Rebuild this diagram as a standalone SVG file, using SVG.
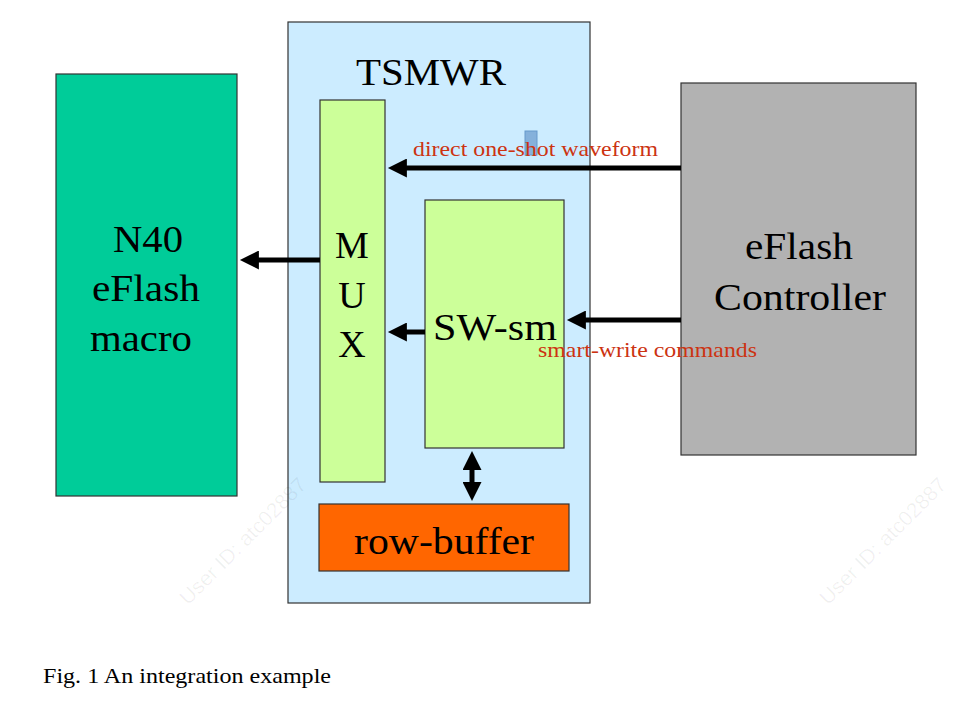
<svg xmlns="http://www.w3.org/2000/svg" width="956" height="712" viewBox="0 0 956 712">
<style>
.t{font-family:"Liberation Serif",serif;fill:#000}
.big{font-size:38px}
.lbl{font-family:"Liberation Serif",serif;font-size:21px;fill:#CC3311}
.box{stroke:#333;stroke-width:1.2}
.wm{font-family:"Liberation Sans",sans-serif;font-size:21px;fill:#000;fill-opacity:0.06}
.ln{stroke:#000;stroke-width:5;fill:none}
</style>
<defs>
<marker id="ah" viewBox="0 0 10 10" refX="1" refY="5" markerWidth="4" markerHeight="3.8" orient="auto-start-reverse" markerUnits="strokeWidth">
<path d="M0,0 L10,5 L0,10 z" fill="#000"/>
</marker>
</defs>
<rect width="956" height="712" fill="#fff"/>
<g id="tsmwr">
<rect class="box" x="288" y="22" width="302" height="581" fill="#CCECFF"/>
<text class="t big" x="356" y="85" textLength="150" lengthAdjust="spacingAndGlyphs">TSMWR</text>
</g>
<g id="n40">
<rect class="box" x="56" y="74" width="181" height="422" fill="#00CC99"/>
<text class="t big" x="113" y="252" textLength="70" lengthAdjust="spacingAndGlyphs">N40</text>
<text class="t big" x="92" y="301" textLength="108" lengthAdjust="spacingAndGlyphs">eFlash</text>
<text class="t big" x="90" y="351" textLength="102" lengthAdjust="spacingAndGlyphs">macro</text>
</g>
<g id="mux">
<rect class="box" x="320" y="100" width="65" height="382" fill="#CCFF99"/>
<text class="t big" x="352" y="258" text-anchor="middle">M</text>
<text class="t big" x="352" y="308" text-anchor="middle">U</text>
<text class="t big" x="352" y="357" text-anchor="middle">X</text>
</g>
<g id="swsm">
<rect class="box" x="425" y="200" width="139" height="248" fill="#CCFF99"/>
<text class="t big" x="433" y="340" textLength="124" lengthAdjust="spacingAndGlyphs">SW-sm</text>
</g>
<g id="rowbuffer">
<rect class="box" x="319" y="504" width="250" height="67" fill="#FF6600"/>
<text class="t big" x="354" y="554" textLength="180" lengthAdjust="spacingAndGlyphs">row-buffer</text>
</g>
<g id="controller">
<rect class="box" x="681" y="83" width="235" height="372" fill="#B2B2B2"/>
<text class="t big" x="745" y="259" textLength="108" lengthAdjust="spacingAndGlyphs">eFlash</text>
<text class="t big" x="714" y="310" textLength="172" lengthAdjust="spacingAndGlyphs">Controller</text>
</g>
<g id="connectors">
<line class="ln" x1="681" y1="168" x2="405" y2="168" marker-end="url(#ah)"/>
<line class="ln" x1="320" y1="260" x2="257" y2="260" marker-end="url(#ah)"/>
<line class="ln" x1="425" y1="332" x2="405" y2="332" marker-end="url(#ah)"/>
<line class="ln" x1="681" y1="320" x2="584" y2="320" marker-end="url(#ah)"/>
<line class="ln" x1="472" y1="468" x2="472" y2="484" marker-start="url(#ah)" marker-end="url(#ah)"/>
</g>
<g id="labels">
<rect x="525" y="131" width="12" height="24" fill="#6699CC" fill-opacity="0.7" stroke="#6699CC"/>
<text class="lbl" x="413" y="156" textLength="245" lengthAdjust="spacingAndGlyphs">direct one-shot waveform</text>
<text class="lbl" x="538" y="357" textLength="219" lengthAdjust="spacingAndGlyphs">smart-write commands</text>
</g>
<text class="wm" transform="translate(188,606) rotate(-45)">User ID: atc02887</text>
<text class="wm" transform="translate(828,606) rotate(-45)">User ID: atc02887</text>
<text class="t" x="43" y="683" font-size="21" textLength="288" lengthAdjust="spacingAndGlyphs">Fig. 1 An integration example</text>
</svg>
